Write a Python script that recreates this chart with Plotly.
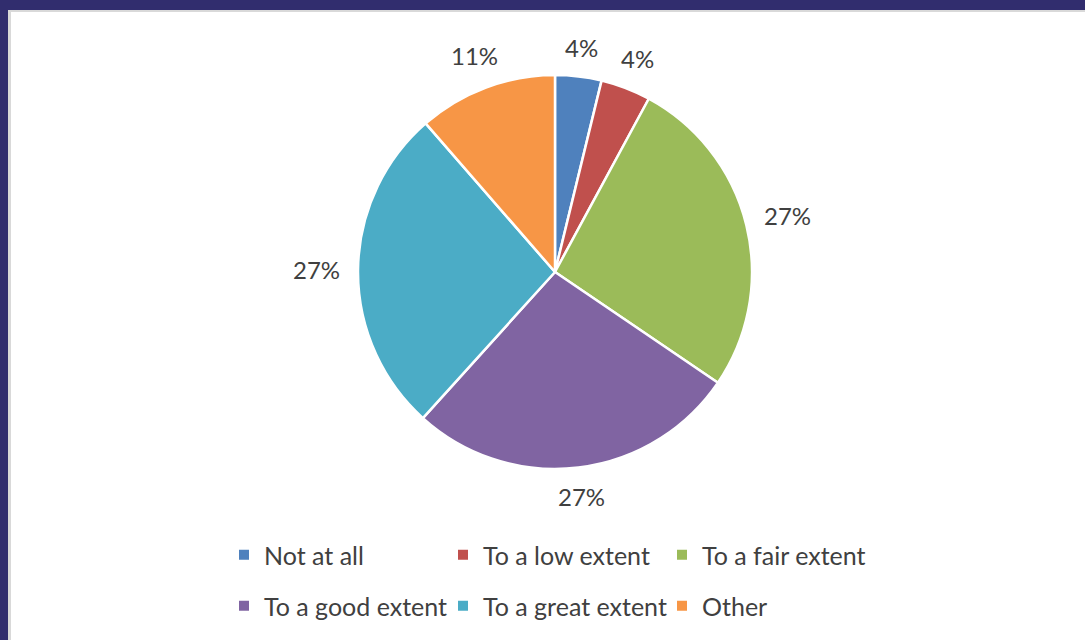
import math
import plotly.graph_objects as go

# ---- data ----
categories = ["Not at all", "To a low extent", "To a fair extent",
              "To a good extent", "To a great extent", "Other"]
values = [3.8, 4.1, 26.6, 27.2, 26.9, 11.4]
colors = ["#4F81BD", "#C0504D", "#9BBB59", "#8064A2", "#4BACC6", "#F79646"]

W, H = 1085, 640
FONT = "Lato, Open Sans, Liberation Sans, sans-serif"
TXT = "#404040"

# pie geometry (pixels)
CX, CY, R = 555, 272, 197

fig = go.Figure()
fig.add_trace(go.Pie(
    labels=categories, values=values, sort=False, direction="clockwise",
    rotation=0, marker=dict(colors=colors, line=dict(color="white", width=2.5)),
    textinfo="none", hoverinfo="label+percent", showlegend=False,
    domain=dict(x=[(CX - R) / W, (CX + R) / W], y=[1 - (CY + R) / H, 1 - (CY - R) / H]),
))

# legend entries (two rows)
for i, (cat, col) in enumerate(zip(categories, colors)):
    fig.add_trace(go.Scatter(
        x=[None], y=[None], mode="markers", name=cat,
        marker=dict(symbol="square", size=10, color=col),
        legend="legend" if i < 3 else "legend2", showlegend=True,
    ))

# percentage labels outside slices
total = sum(values)
annotations = []
cum = 0.0
for v in values:
    mid = (cum + v / 2) / total * 2 * math.pi
    cum += v
    txt = f"{round(v / total * 100)}%"
    w = 14 * len(txt)
    h = 14
    s, c = math.sin(mid), math.cos(mid)
    d = R + 20 + abs(s) * w / 2 + abs(c) * h / 2
    px, py = CX + d * s, CY - d * c
    annotations.append(dict(
        x=px / W, y=1 - py / H, xref="paper", yref="paper", text=txt,
        showarrow=False, xanchor="center", yanchor="middle",
        font=dict(family=FONT, size=24, color=TXT),
    ))

navy = "#312D6E"
gray = "#D9D9D9"
shapes = [
    dict(type="rect", xref="paper", yref="paper", x0=8 / W, x1=1, y0=1 - 12 / H, y1=1 - 9 / H,
         fillcolor=gray, line=dict(width=0), layer="below"),
    dict(type="rect", xref="paper", yref="paper", x0=8 / W, x1=11 / W, y0=0, y1=1 - 9 / H,
         fillcolor=gray, line=dict(width=0), layer="below"),
    dict(type="rect", xref="paper", yref="paper", x0=0, x1=1, y0=1 - 10 / H, y1=1,
         fillcolor=navy, line=dict(width=0), layer="below"),
    dict(type="rect", xref="paper", yref="paper", x0=0, x1=8 / W, y0=0, y1=1,
         fillcolor=navy, line=dict(width=0), layer="below"),
]

leg_common = dict(orientation="h", xref="container", yref="container",
                  xanchor="left", yanchor="middle", entrywidth=174,
                  font=dict(family=FONT, size=25, color=TXT),
                  bgcolor="rgba(0,0,0,0)", itemclick=False, itemdoubleclick=False)

fig.update_layout(
    width=W, height=H,
    margin=dict(l=0, r=0, t=0, b=0, autoexpand=False),
    paper_bgcolor="white", plot_bgcolor="white",
    xaxis=dict(visible=False), yaxis=dict(visible=False),
    annotations=annotations, shapes=shapes,
    legend=dict(x=224 / W, y=1 - 555 / H, **leg_common),
    legend2=dict(x=224 / W, y=1 - 606 / H, **leg_common),
    showlegend=True,
)

fig.write_html("out.html")
